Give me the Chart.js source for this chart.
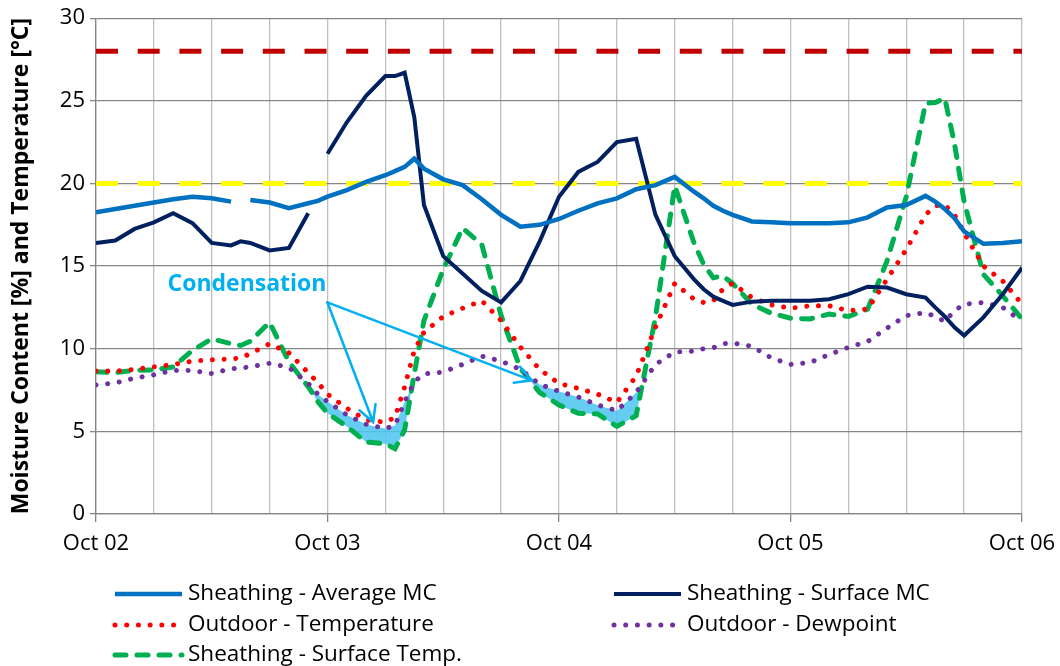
<!DOCTYPE html>
<html>
<head>
<meta charset="utf-8">
<script src="https://cdn.jsdelivr.net/npm/chart.js@4.4.1/dist/chart.umd.min.js"></script>
<style>
  html, body { margin: 0; padding: 0; background: #fff; }
  canvas { display: block; }
</style>
</head>
<body>
<canvas id="mcChart" width="1060" height="666"></canvas>
<script>
// hours since Oct 02 00:00
const hours = [0, 2, 4, 6, 8, 10, 12, 14, 15, 16, 18, 20, 22, 23, 24, 26, 28, 30, 31, 32, 33, 34,
    36, 38, 40, 42, 44, 46, 48, 50, 52, 54, 56, 58, 60, 62, 63, 64, 65, 66, 68, 70, 72, 74, 76,
    78, 80, 82, 84, 86, 87, 88, 89, 90, 92, 94, 96];
const dayLabels = ['Oct 02', 'Oct 03', 'Oct 04', 'Oct 05', 'Oct 06'];

const averageMC = [18.25, 18.45, 18.65, 18.85, 19.05, 19.2, 19.1, 18.9, null, 19.0, 18.85, 18.5, 18.8, 18.95,
    19.2, 19.6, 20.1, 20.5, 20.75, 21.0, 21.5, 20.9, 20.25, 19.9, 19.05, 18.1, 17.38, 17.5, 17.85,
    18.35, 18.8, 19.1, 19.65, 19.9, 20.4, 19.5, 19.1, 18.65, 18.35, 18.1, 17.7, 17.65, 17.6, 17.6,
    17.6, 17.65, 17.95, 18.55, 18.7, 19.25, 18.9, 18.45, 17.9, 17.1, 16.35, 16.4, 16.5];
const surfaceMC = [16.4, 16.55, 17.25, 17.65, 18.2, 17.6, 16.4, 16.25, 16.5, 16.4, 15.95, 16.1, 18.2, null,
    21.8, 23.7, 25.3, 26.5, 26.5, 26.7, 24.0, 18.7, 15.6, 14.55, 13.5, 12.8, 14.1, 16.5, 19.2,
    20.7, 21.3, 22.5, 22.7, 18.1, 15.6, 14.2, 13.6, 13.15, 12.9, 12.65, 12.85, 12.9, 12.9, 12.9,
    13.0, 13.3, 13.75, 13.7, 13.3, 13.1, 12.5, 11.95, 11.3, 10.8, 11.9, 13.3, 14.9];
const outdoorTemp = [8.65, 8.65, 8.75, 8.9, 9.05, 9.25, 9.33, 9.38, 9.45, 9.7, 10.3, 9.75, 8.55, 7.95,
    7.25, 6.4, 5.7, 5.55, 5.85, 7.7, 9.9, 11.0, 11.95, 12.45, 12.9, 11.7, 10.1, 8.75, 7.9,
    7.6, 7.25, 6.75, 8.35, 11.3, 13.95, 13.0, 12.8, 12.9, 13.6, 13.95, 13.1, 12.65, 12.45, 12.6,
    12.6, 12.3, 12.4, 14.2, 16.0, 18.1, 18.65, 18.7, 18.1, 17.0, 15.0, 14.1, 12.7];
const dewpoint = [7.8, 7.93, 8.22, 8.42, 8.69, 8.68, 8.5, 8.79, 8.84, 8.9, 9.12, 8.87, 7.9, 7.25,
    6.8, 6.0, 5.43, 5.17, 5.37, 6.8, 8.0, 8.48, 8.59, 9.05, 9.55, 9.25, 8.75, 7.85, 7.42,
    7.08, 6.6, 6.25, 7.35, 9.05, 9.8, 9.85, 10.0, 10.06, 10.3, 10.34, 10.15, 9.45, 9.05, 9.16,
    9.65, 10.08, 10.44, 11.25, 12.0, 12.19, 11.95, 11.65, 12.3, 12.7, 12.8, 12.5, 11.65];
const surfaceTemp = [8.6, 8.55, 8.7, 8.72, 8.9, 9.9, 10.6, 10.3, 10.2, 10.45, 11.6, 9.2, 7.7, 6.8,
    6.1, 5.3, 4.35, 4.25, 3.95, 5.1, 8.5, 11.7, 14.8, 17.3, 16.3, 12.0, 8.8, 7.35, 6.6,
    6.1, 6.05, 5.3, 5.95, 11.9, 19.85, 16.4, 15.1, 14.3, 14.4, 13.95, 12.7, 12.15, 11.85, 11.8,
    12.1, 11.95, 12.4, 15.3, 19.2, 24.85, 24.9, 25.15, 22.4, 18.9, 14.5, 13.2, 11.8];

const mcLimitHigh = 28;
const mcLimitLow = 20;

// annotation anchors (hour, value)
const noteText = 'Condensation';
const noteAt = [15.65, 13.9];
const arrowFrom = [23.98, 12.81];
const arrowTips = [[28.73, 5.57], [45.16, 8.09]];

const FONT = '"Open Sans", "DejaVu Sans", sans-serif';
const condColor = 'rgba(80, 197, 240, 0.88)';
const dotDash = [0.01, 11.7];

const ctx = document.getElementById('mcChart').getContext('2d');

const overlay = {
    id: 'overlay',
    afterDraw(chart) {
        const c = chart.ctx;
        const xs = chart.scales.x, ys = chart.scales.y;
        const px = p => [xs.getPixelForValue(p[0]), ys.getPixelForValue(p[1])];

        // condensation note + arrows
        c.save();
        c.fillStyle = '#00B0F0';
        c.strokeStyle = '#00B0F0';
        c.font = 'bold 23px ' + FONT;
        c.textAlign = 'center';
        c.textBaseline = 'middle';
        const t = px(noteAt);
        c.fillText(noteText, t[0], t[1]);
        c.lineWidth = 2.5;
        c.lineCap = 'round';
        const s = px(arrowFrom);
        arrowTips.forEach(tip => {
            const e = px(tip);
            const ang = Math.atan2(e[1] - s[1], e[0] - s[0]);
            c.beginPath();
            c.moveTo(s[0], s[1]);
            c.lineTo(e[0], e[1]);
            c.moveTo(e[0] - 18 * Math.cos(ang - 0.5), e[1] - 18 * Math.sin(ang - 0.5));
            c.lineTo(e[0], e[1]);
            c.lineTo(e[0] - 18 * Math.cos(ang + 0.5), e[1] - 18 * Math.sin(ang + 0.5));
            c.stroke();
        });
        c.restore();

        // legend, two columns
        const slots = [[113, 594], [612, 594], [113, 625], [612, 625], [113, 655]];
        c.save();
        c.font = '22.5px ' + FONT;
        c.textBaseline = 'middle';
        c.fillStyle = '#000';
        for (let i = 0; i < 5; i++) {
            const ds = chart.data.datasets[i];
            const [lx, ly] = slots[i];
            c.beginPath();
            c.strokeStyle = ds.borderColor;
            c.lineWidth = ds.borderWidth;
            c.lineCap = ds.borderCapStyle || 'butt';
            c.setLineDash(ds.borderDash || []);
            c.moveTo(lx + 2, ly);
            c.lineTo(lx + 69, ly);
            c.stroke();
            c.setLineDash([]);
            c.fillText(ds.label, lx + 75, ly);
        }
        c.restore();
    }
};

new Chart(ctx, {
    type: 'line',
    data: {
        labels: hours,
        datasets: [
            {
                label: 'Sheathing - Average MC',
                data: averageMC,
                borderColor: '#0070C0',
                borderWidth: 4.5
            },
            {
                label: 'Sheathing - Surface MC',
                data: surfaceMC,
                borderColor: '#002060',
                borderWidth: 4
            },
            {
                label: 'Outdoor - Temperature',
                data: outdoorTemp,
                borderColor: '#FF0000',
                borderWidth: 5,
                borderDash: dotDash,
                borderCapStyle: 'round'
            },
            {
                label: 'Outdoor - Dewpoint',
                data: dewpoint,
                borderColor: '#7030A0',
                borderWidth: 5,
                borderDash: dotDash,
                borderCapStyle: 'round'
            },
            {
                label: 'Sheathing - Surface Temp.',
                data: surfaceTemp,
                borderColor: '#00B050',
                borderWidth: 5,
                borderDash: [11, 11],
                borderCapStyle: 'round',
                fill: { target: 3, above: 'rgba(0,0,0,0)', below: condColor }
            },
            {
                label: 'limit28',
                data: [{ x: hours[0], y: mcLimitHigh }, { x: hours[hours.length - 1], y: mcLimitHigh }],
                borderColor: '#C00000',
                borderWidth: 5,
                borderDash: [22, 19.7]
            },
            {
                label: 'limit20',
                data: [{ x: hours[0], y: mcLimitLow }, { x: hours[hours.length - 1], y: mcLimitLow }],
                borderColor: '#FFFF00',
                borderWidth: 5,
                borderDash: [22, 19.7]
            }
        ]
    },
    options: {
        responsive: false,
        animation: false,
        layout: { padding: { top: 17, right: 38, left: 0, bottom: 0 } },
        elements: { point: { radius: 0 }, line: { tension: 0 } },
        plugins: {
            legend: { display: false },
            tooltip: { enabled: false },
            filler: { drawTime: 'beforeDatasetsDraw' }
        },
        scales: {
            x: {
                type: 'linear',
                min: 0,
                max: 96,
                afterFit: s => {
                    s.height = 152;
                    s.paddingLeft = 0;
                    s.paddingRight = 0;
                },
                ticks: {
                    stepSize: 6,
                    autoSkip: false,
                    maxRotation: 0,
                    padding: 9,
                    color: '#000',
                    font: { family: FONT, size: 22 },
                    callback: v => (v % 24 === 0 ? dayLabels[v / 24] : '')
                },
                grid: {
                    color: '#BFBFBF',
                    lineWidth: 1.3,
                    tickLength: 8,
                    tickColor: c => (c.tick && c.tick.value % 24 === 0 ? '#868686' : 'rgba(0,0,0,0)')
                },
                border: { color: '#868686', width: 1.3 }
            },
            y: {
                min: 0,
                max: 30,
                afterFit: s => { s.width = 96; },
                ticks: {
                    stepSize: 5,
                    padding: 5,
                    color: '#000',
                    font: { family: FONT, size: 22 }
                },
                grid: { color: '#868686', lineWidth: 1.3, tickLength: 6 },
                border: { color: '#868686', width: 1.3 },
                title: {
                    display: true,
                    text: 'Moisture Content [%] and Temperature [°C]',
                    color: '#000',
                    font: { family: FONT, size: 23, weight: 'bold' },
                    padding: { top: 8, bottom: 0 }
                }
            }
        }
    },
    plugins: [overlay]
});
</script>
</body>
</html>
